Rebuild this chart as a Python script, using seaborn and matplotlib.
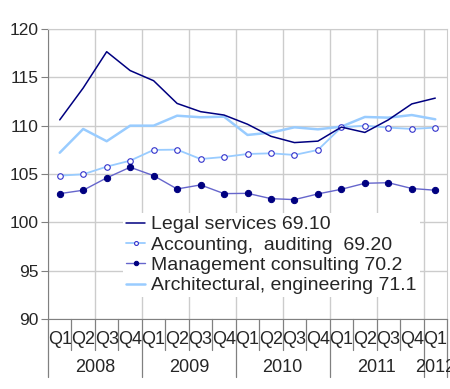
import numpy as np
import pandas as pd
import matplotlib
matplotlib.use("Agg")
import matplotlib.pyplot as plt
import seaborn as sns

# Data
quarters = ["Q1", "Q2", "Q3", "Q4"] * 4 + ["Q1"]
years = ["2008", "2009", "2010", "2011", "2012"]
legal = [110.6, 113.9, 117.65, 115.7, 114.65, 112.3, 111.45, 111.1, 110.15,
         108.9, 108.25, 108.4, 109.85, 109.3, 110.6, 112.25, 112.85]
accounting = [104.83, 104.97, 105.76, 106.38, 107.49, 107.52, 106.55, 106.76,
              107.07, 107.14, 106.97, 107.49, 109.83, 110.0, 109.8, 109.66, 109.8]
management = [102.97, 103.32, 104.6, 105.7, 104.83, 103.45, 103.87, 102.97,
              103.0, 102.45, 102.35, 102.94, 103.42, 104.04, 104.1, 103.5, 103.32]
architectural = [107.2, 109.66, 108.39, 110.0, 110.0, 111.03, 110.87, 110.93,
                 109.04, 109.28, 109.83, 109.62, 109.9, 110.9, 110.83, 111.1, 110.66]
labels = ["Legal services 69.10", "Accounting,  auditing  69.20",
          "Management consulting 70.2", "Architectural, engineering 71.1"]

sns.set_style("white")
plt.rcParams['font.family'] = ['Liberation Sans', 'DejaVu Sans']

df = pd.DataFrame({"idx": np.arange(len(quarters)), "legal": legal,
                   "accounting": accounting, "management": management,
                   "architectural": architectural})

fig = plt.figure(figsize=(4.5, 3.89), dpi=100)
ax = fig.add_axes([48 / 450, 1 - 319 / 389, 399 / 450, 290 / 389])

sns.lineplot(data=df, x="idx", y="legal", ax=ax, color="#000080", lw=1.1,
             label=labels[0], zorder=4)
sns.lineplot(data=df, x="idx", y="accounting", ax=ax, color="#99CCFF", lw=1.3,
             marker="o", markersize=4, markerfacecolor="white",
             markeredgecolor="#3333CC", markeredgewidth=0.8, label=labels[1], zorder=3)
sns.lineplot(data=df, x="idx", y="management", ax=ax, color="#6666CC", lw=1.0,
             marker="o", markersize=4.5, markerfacecolor="#000080",
             markeredgecolor="#000080", label=labels[2], zorder=3)
sns.lineplot(data=df, x="idx", y="architectural", ax=ax, color="#99CCFF", lw=1.8,
             label=labels[3], zorder=2)

ax.set_xlim(-0.5, len(quarters) - 0.5)
ax.set_ylim(90, 120)
ax.set_yticks(range(90, 121, 5))
ax.set_xlabel("")
ax.set_ylabel("")

# grid
ax.set_xticks(np.arange(-0.5, len(quarters), 2), minor=True)
ax.grid(True, axis="y", color="#CCCCCC", lw=1)
ax.grid(True, axis="x", which="minor", color="#CCCCCC", lw=1)
ax.set_axisbelow(True)

for s in ["top", "right"]:
    ax.spines[s].set_color("#CCCCCC")
for s in ["left", "bottom"]:
    ax.spines[s].set_color("#808080")
ax.tick_params(axis="y", which="major", left=True, length=5, color="#808080",
               labelsize=12.5, pad=2)
ax.tick_params(axis="x", which="both", bottom=False, labelbottom=False)

# two-level category axis
trans = ax.get_xaxis_transform()
for i, q in enumerate(quarters):
    ax.text(i, -21 / 290, q, transform=trans, ha="center", va="center",
            fontsize=13, clip_on=False)
for b in np.arange(0.5, len(quarters) - 1, 1):
    if b in (3.5, 7.5, 11.5, 15.5):
        continue
    ax.plot([b, b], [0, -31 / 290], transform=trans, color="#808080", lw=0.9,
            clip_on=False)
for b in [-0.5, 3.5, 7.5, 11.5, 15.5, 16.5]:
    ax.plot([b, b], [0, -58 / 290], transform=trans, color="#808080", lw=0.9,
            clip_on=False)
year_centers = [1.5, 5.5, 9.5, 13.5, 16]
for yc, yr in zip(year_centers, years):
    ax.text(yc, -49 / 290, yr, transform=trans, ha="center", va="center",
            fontsize=13, clip_on=False)

leg = ax.legend(loc="upper left", bbox_to_anchor=(0.188, 0.366), fontsize=14,
                frameon=True, fancybox=False, framealpha=1, edgecolor="white",
                handlelength=1.0, handletextpad=0.3, labelspacing=0.14,
                borderpad=0.15, borderaxespad=0, markerscale=0.7)
leg.get_frame().set_linewidth(0)

fig.savefig("out.png", dpi=100)
